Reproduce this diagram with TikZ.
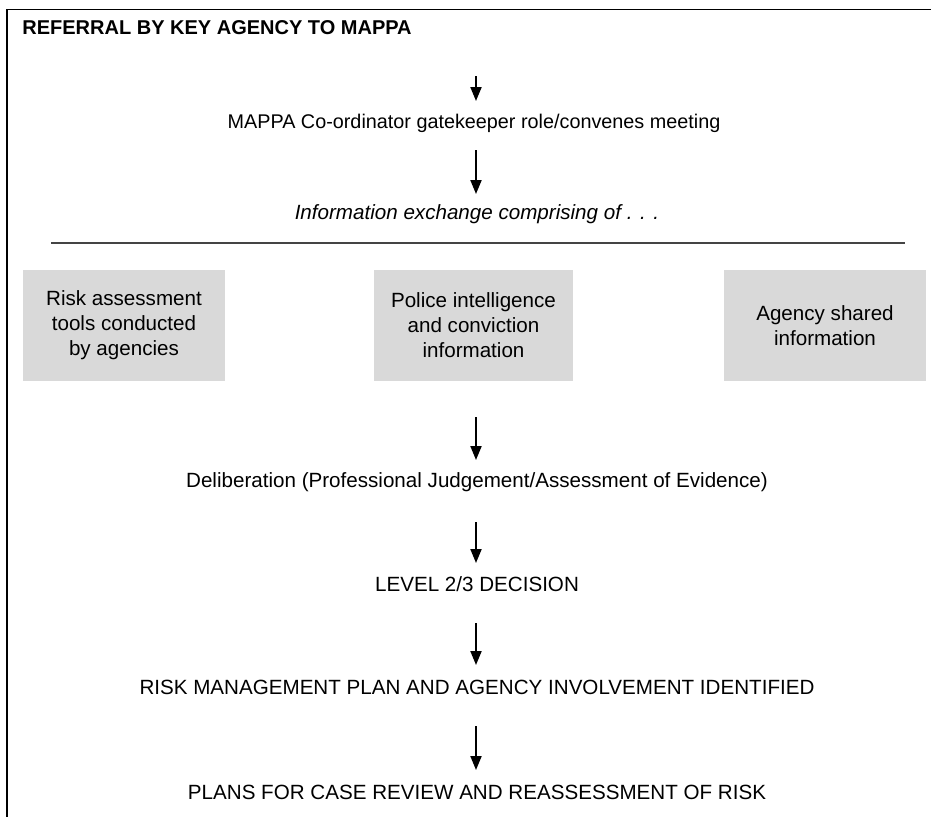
\documentclass[tikz,border=0pt]{standalone}
\usepackage{fontspec}
\setmainfont{Liberation Sans}
\usetikzlibrary{arrows.meta}
\definecolor{boxgray}{HTML}{D9D9D9}
\definecolor{rulegray}{HTML}{444444}
\tikzset{
  flowtext/.style={anchor=base, inner sep=0pt, font=\fontsize{10.3}{12.5}\selectfont, text=black},
  infobox/.style={fill=boxgray, draw=none, align=center, inner sep=0pt,
     minimum height=55.5pt, font=\fontsize{10.3}{12.5}\selectfont},
  flowarrow/.style={line width=1pt, -{Triangle[width=5.5pt,length=7pt]}},
}
\begin{document}
\begin{tikzpicture}[x=0.5pt,y=-0.5pt]
\useasboundingbox (0,0) rectangle (931,816);
\clip (0,0) rectangle (931,816);
% frame (continues past the right and bottom edges)
\draw[line width=0.9pt] (7,830) -- (7,9.5) -- (945,9.5);
% title
\node[flowtext, anchor=base west, font=\fontsize{10}{12}\selectfont\bfseries] (title) at (22,34) {REFERRAL BY KEY AGENCY TO MAPPA};
% texts
\node[flowtext, font=\fontsize{9.9}{12}\selectfont] (coord) at (474,128) {MAPPA Co-ordinator gatekeeper role/convenes meeting};
\node[flowtext, font=\fontsize{10.3}{12}\selectfont\itshape] (info) at (477,219) {Information exchange comprising of . . .};
\draw[rulegray, line width=0.6pt] (51,243) -- (905,243);
% boxes
\node[infobox, minimum width=101pt] (b1) at (124,325.5) {Risk assessment\\tools conducted\\by agencies};
\node[infobox, minimum width=99.5pt] (b2) at (473.5,325.5) {Police intelligence\\and conviction\\information};
\node[infobox, minimum width=101pt] (b3) at (825,325.5) {Agency shared\\information};
\node[flowtext] (delib) at (477,487) {Deliberation (Professional Judgement/Assessment of Evidence)};
\node[flowtext] (level) at (477,591) {LEVEL 2/3 DECISION};
\node[flowtext] (rmp) at (477,694) {RISK MANAGEMENT PLAN AND AGENCY INVOLVEMENT IDENTIFIED};
\node[flowtext] (plans) at (477,799) {PLANS FOR CASE REVIEW AND REASSESSMENT OF RISK};
% arrow end points
\coordinate (a1s) at (476,76);  \coordinate (a1e) at (476,101);
\coordinate (a2s) at (476,150); \coordinate (a2e) at (476,194);
\coordinate (a3s) at (476,417); \coordinate (a3e) at (476,460);
\coordinate (a4s) at (476,522); \coordinate (a4e) at (476,563);
\coordinate (a5s) at (476,623); \coordinate (a5e) at (476,665);
\coordinate (a6s) at (476,726); \coordinate (a6e) at (476,770);
\foreach \i in {1,...,6} \draw[flowarrow] (a\i s) -- (a\i e);
\end{tikzpicture}
\end{document}
